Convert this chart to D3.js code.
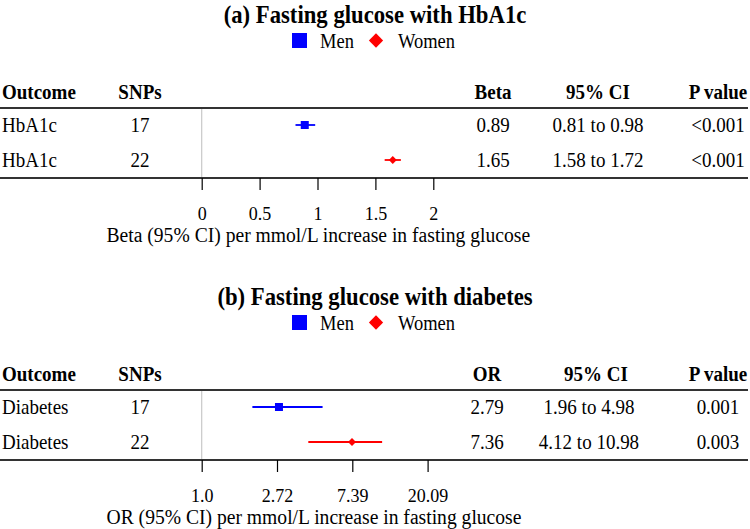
<!DOCTYPE html>
<html><head><meta charset="utf-8">
<script src="https://cdn.jsdelivr.net/npm/d3@7"></script>
<style>body{margin:0;background:#fff}svg{display:block}text{font-family:"Liberation Serif","Times New Roman",serif}</style>
</head><body>
<svg id="c" width="750" height="529"></svg>
<script>
// Panel (a): HbA1c
const titleA = "(a) Fasting glucose with HbA1c";
const outcomesA = ["HbA1c", "HbA1c"];
const snpsA = [17, 22];
const groupsA = ["Men", "Women"];
const betaA = [0.89, 1.65];
const lowA = [0.81, 1.58];
const highA = [0.98, 1.72];
const ciTextA = ["0.81 to 0.98", "1.58 to 1.72"];
const pA = ["<0.001", "<0.001"];
const ticksA = [0, 0.5, 1, 1.5, 2];
const tickLabelsA = ["0", "0.5", "1", "1.5", "2"];
const axisTitleA = "Beta (95% CI) per mmol/L increase in fasting glucose";

// Panel (b): Diabetes
const titleB = "(b) Fasting glucose with diabetes";
const outcomesB = ["Diabetes", "Diabetes"];
const snpsB = [17, 22];
const groupsB = ["Men", "Women"];
const orB = [2.79, 7.36];
const lowB = [1.96, 4.12];
const highB = [4.98, 10.98];
const ciTextB = ["1.96 to 4.98", "4.12 to 10.98"];
const pB = ["0.001", "0.003"];
const ticksB = [1, Math.E, Math.E * Math.E, Math.E ** 3];
const tickLabelsB = ["1.0", "2.72", "7.39", "20.09"];
const axisTitleB = "OR (95% CI) per mmol/L increase in fasting glucose";

const legendNames = ["Men", "Women"];
const colors = {Men: "#0000ff", Women: "#ff0000"};

const svg = d3.select("#c");
const FS = 19;
const STRETCH = 1.1;

function panel(y0, cfg) {
  const g = svg.append("g").attr("transform", `translate(0,${y0})`);
  // title
  g.append("text").attr("x", 375).attr("y", 15).attr("text-anchor", "middle")
    .attr("dominant-baseline", "central").attr("font-weight", "bold").attr("font-size", 22.7)
    .text(cfg.title);
  // legend
  const lg = g.append("g");
  lg.append("rect").attr("x", 292).attr("y", 33).attr("width", 15).attr("height", 15).attr("fill", colors.Men);
  lg.append("text").attr("x", 320).attr("y", 41).attr("dominant-baseline", "central").attr("font-size", 18.5).text(legendNames[0]);
  lg.append("path").attr("d", d3.symbol(d3.symbolDiamond2, 130)()).attr("transform", "translate(376,40.5)").attr("fill", colors.Women);
  lg.append("text").attr("x", 398).attr("y", 41).attr("dominant-baseline", "central").attr("font-size", 18.5).text(legendNames[1]);

  // headers
  const hy = 92;
  const headers = [
    {t: "Outcome", x: 2, a: "start"},
    {t: "SNPs", x: 140, a: "middle"},
    {t: cfg.estName, x: cfg.colEst, a: "middle"},
    {t: "95% CI", x: cfg.colCIh, a: "middle"},
    {t: "P value", x: 718, a: "middle"}
  ];
  g.selectAll(".h").data(headers).join("text")
    .attr("x", d => d.x).attr("y", hy).attr("text-anchor", d => d.a)
    .attr("dominant-baseline", "central").attr("font-weight", "bold").attr("font-size", FS)
    .text(d => d.t);

  const rowY = d3.scalePoint().domain([0, 1]).range([125, 160]);
  const rows = d3.range(cfg.outcomes.length);
  const cells = [];
  rows.forEach(i => {
    cells.push({t: cfg.outcomes[i], x: 2, a: "start", y: rowY(i)});
    cells.push({t: String(cfg.snps[i]), x: 140, a: "middle", y: rowY(i)});
    cells.push({t: cfg.est[i].toFixed(2), x: cfg.colEst, a: "middle", y: rowY(i)});
    cells.push({t: cfg.ciText[i], x: cfg.colCI, a: "middle", y: rowY(i)});
    cells.push({t: cfg.p[i], x: 718, a: "middle", y: rowY(i)});
  });
  g.selectAll(".cell").data(cells).join("text")
    .attr("x", d => d.x).attr("y", d => d.y).attr("text-anchor", d => d.a)
    .attr("dominant-baseline", "central").attr("font-size", FS).text(d => d.t);

  const x = cfg.scale;
  // reference line
  g.append("line").attr("x1", x(cfg.ref)).attr("x2", x(cfg.ref)).attr("y1", 108).attr("y2", 178)
    .attr("stroke", "#c8c8c8").attr("stroke-width", 1.2);
  // table lines
  [108, 178].forEach(yy => g.append("line").attr("x1", 0).attr("x2", 748).attr("y1", yy).attr("y2", yy)
    .attr("stroke", "#333").attr("stroke-width", 2));

  // axis
  const axis = d3.axisBottom(x).tickValues(cfg.ticks).tickFormat((d, i) => cfg.tickLabels[i])
    .tickSize(12).tickPadding(13);
  const ax = g.append("g").attr("transform", "translate(0,178)").call(axis);
  ax.select(".domain").remove();
  ax.selectAll(".tick line").attr("stroke", "#000").attr("stroke-width", 1.2);
  ax.selectAll(".tick text").attr("font-size", 18).attr("font-family", "Liberation Serif, serif").attr("fill", "#000")
    .attr("dy", null).attr("y", 35).attr("dominant-baseline", "central");
  g.append("text").attr("x", 106.5).attr("y", 234.5).attr("text-anchor", "start")
    .attr("dominant-baseline", "central").attr("font-size", 19.6).text(cfg.axisTitle);

  // CI lines and markers
  rows.forEach(i => {
    const c = colors[cfg.groups[i]];
    g.append("line").attr("x1", x(cfg.low[i])).attr("x2", x(cfg.high[i]))
      .attr("y1", rowY(i)).attr("y2", rowY(i)).attr("stroke", c).attr("stroke-width", 1.8);
    if (cfg.groups[i] === "Men") {
      g.append("rect").attr("x", x(cfg.est[i]) - 4).attr("y", rowY(i) - 4).attr("width", 8).attr("height", 8).attr("fill", c);
    } else {
      g.append("path").attr("d", d3.symbol(d3.symbolDiamond2, 40)())
        .attr("transform", `translate(${x(cfg.est[i])},${rowY(i)})`).attr("fill", c);
    }
  });
}

panel(0, {
  title: titleA, outcomes: outcomesA, snps: snpsA, groups: groupsA, est: betaA, low: lowA, high: highA,
  ciText: ciTextA, p: pA, ticks: ticksA, tickLabels: tickLabelsA, axisTitle: axisTitleA,
  estName: "Beta", colEst: 493, colCI: 598, colCIh: 598, ref: 0,
  scale: d3.scaleLinear().domain([0, 2]).range([201.7, 433.3])
});
panel(282, {
  title: titleB, outcomes: outcomesB, snps: snpsB, groups: groupsB, est: orB, low: lowB, high: highB,
  ciText: ciTextB, p: pB, ticks: ticksB, tickLabels: tickLabelsB, axisTitle: axisTitleB,
  estName: "OR", colEst: 487, colCI: 589, colCIh: 596, ref: 1,
  scale: d3.scaleLog().base(Math.E).domain([1, Math.E ** 3]).range([201.7, 201.7 + 3 * 75.3])
});

// slight vertical stretch of glyphs, as in the reference
svg.selectAll("text").each(function () {
  const t = d3.select(this);
  const tx = +(t.attr("x") || 0), ty = +(t.attr("y") || 0);
  t.attr("x", 0).attr("y", 0).attr("transform", `translate(${tx},${ty}) scale(1,${STRETCH})`);
});
</script>
</body></html>
